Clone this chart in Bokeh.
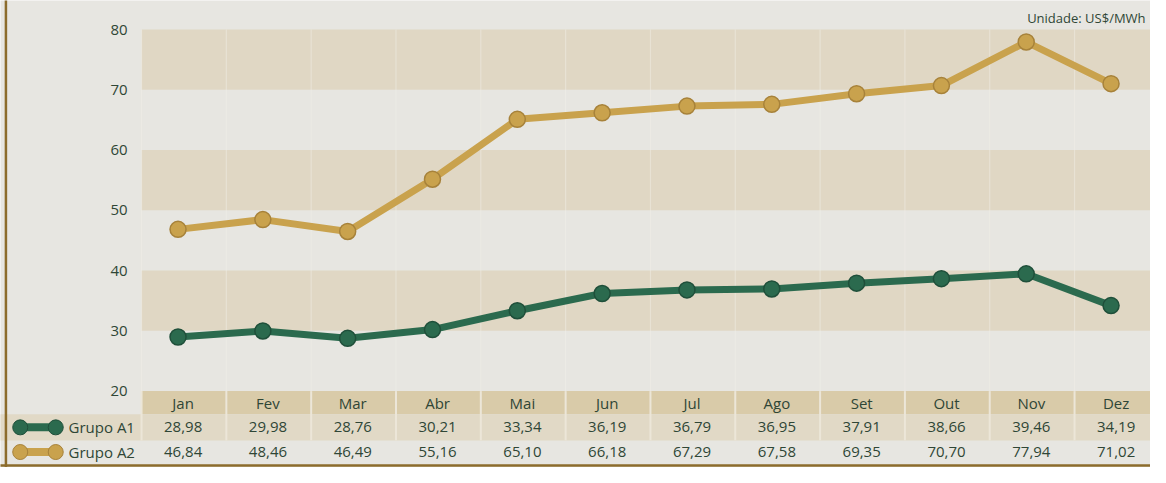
from bokeh.plotting import figure
from bokeh.models import LinearAxis, FixedTicker, Range1d
from bokeh.core.properties import value
from bokeh.embed import file_html
from bokeh.resources import INLINE

months = ["Jan", "Fev", "Mar", "Abr", "Mai", "Jun", "Jul", "Ago", "Set", "Out", "Nov", "Dez"]
grupo_a1 = [28.98, 29.98, 28.76, 30.21, 33.34, 36.19, 36.79, 36.95, 37.91, 38.66, 39.46, 34.19]
grupo_a2 = [46.84, 48.46, 46.49, 55.16, 65.10, 66.18, 67.29, 67.58, 69.35, 70.70, 77.94, 71.02]
series_names = ["Grupo A1", "Grupo A2"]
y_ticks = [20, 30, 40, 50, 60, 70, 80]
unit_label = "Unidade: US$/MWh"

W, H = 1150, 467

def dx(px):
    # reference pixel x -> data x
    return (px - 180) / 86.0

def dy(py):
    # reference pixel y -> data y
    return 20 + (404 - py) / 6.233

x0, x1 = dx(0), dx(1166)
y0, y1 = dy(483), dy(0)

BG = "#e7e6e1"
TAN = "#e0d7c4"
TAN_DARK = "#d9cba9"
TAN_ROW = "#e1d9c6"
TXT = "#2f4636"
GREEN = "#2b6a4e"
GREEN_EDGE = "#1f4f3a"
GOLD = "#c9a24d"
GOLD_EDGE = "#a7823a"
FONT = "Open Sans"

p = figure(width=W, height=H, x_range=Range1d(x0, x1), y_range=Range1d(y0, y1),
           x_axis_type=None, y_axis_type=None, toolbar_location=None,
           output_backend="svg", min_border=0)
p.background_fill_color = BG
p.border_fill_color = BG
p.outline_line_color = None
p.grid.visible = False

left_edge = dx(143)
n = len(months)
xs = list(range(n))
xc = [i + 0.06 for i in xs]

# alternating bands from the y ticks
band_bottoms = [y_ticks[i] for i in range(1, len(y_ticks) - 1, 2)]
band_tops = [y_ticks[i + 1] for i in range(1, len(y_ticks) - 1, 2)]
p.quad(left=left_edge, right=x1 + 1, bottom=band_bottoms, top=band_tops,
       fill_color=TAN, line_color=None)

# faint vertical column separators in plot area
col_edges = [left_edge + k for k in range(n + 1)]
p.segment(x0=col_edges, x1=col_edges, y0=[20] * len(col_edges), y1=[80] * len(col_edges),
          line_color="#f2efe8", line_width=1.2, line_alpha=0.45)

# table rows
row_month_b, row_a1_b = dy(428), dy(455)
p.quad(left=left_edge, right=x1 + 1, bottom=row_month_b, top=20,
       fill_color=TAN_DARK, line_color=None)
p.quad(left=x0 - 1, right=x1 + 1, bottom=row_a1_b, top=row_month_b,
       fill_color=TAN_ROW, line_color=None)
p.segment(x0=col_edges, x1=col_edges, y0=[row_a1_b] * len(col_edges), y1=[20] * len(col_edges),
          line_color="#ece6d8", line_width=2)

# borders
p.segment(x0=[dx(5.5)], x1=[dx(5.5)], y0=[y0 - 1], y1=[y1 + 1], line_color="#8c6c2c", line_width=2.5)
p.segment(x0=[x0 - 1], x1=[x1 + 1], y0=[dy(481)], y1=[dy(481)], line_color="#8c6c2c", line_width=2.5)

# series
for vals, col, edge in [(grupo_a1, GREEN, GREEN_EDGE), (grupo_a2, GOLD, GOLD_EDGE)]:
    p.line(xs, vals, line_color=col, line_width=7)
    p.scatter(xs, vals, size=16, fill_color=col, line_color=edge, line_width=1.5)

# y axis (real axis, fixed at plot left edge)
yax = LinearAxis(ticker=FixedTicker(ticks=y_ticks), fixed_location=left_edge)
yax.axis_line_color = None
yax.major_tick_line_color = None
yax.minor_tick_line_color = None
yax.major_label_text_font = FONT
yax.major_label_text_font_size = "15px"
yax.major_label_text_color = TXT
yax.major_label_standoff = 8
p.add_layout(yax, "left")

# month row
y_month = dy(416)
p.text(x=xc, y=[y_month] * n, text=months, text_font=value(FONT), text_font_size="15px",
       text_color=TXT, text_align="center", text_baseline="middle")

# value rows
def fmt(v):
    return f"{v:.2f}".replace(".", ",")

row_centers = [dy(441.5), dy(467)]
for vals, yc in zip([grupo_a1, grupo_a2], row_centers):
    p.text(x=xc, y=[yc] * n, text=[fmt(v) for v in vals], text_font=value(FONT),
           text_font_size="15px", text_color=TXT, text_align="center", text_baseline="middle")

# legend icons (dumbbells) and names
for name, yc, col, edge in zip(series_names, row_centers, [GREEN, GOLD], [GREEN_EDGE, GOLD_EDGE]):
    p.segment(x0=[dx(20)], x1=[dx(56)], y0=[yc], y1=[yc], line_color=col, line_width=8)
    p.scatter([dx(20), dx(56)], [yc, yc], size=15, fill_color=col, line_color=edge, line_width=1)
    p.text(x=[dx(69)], y=[yc], text=[name], text_font=value(FONT), text_font_size="15px",
           text_color=TXT, text_align="left", text_baseline="middle")

# unit label
p.text(x=[dx(1161)], y=[dy(18)], text=[unit_label], text_font=value(FONT), text_font_size="13px",
       text_color=TXT, text_align="right", text_baseline="middle")

open("out.html", "w").write(file_html(p, INLINE))
